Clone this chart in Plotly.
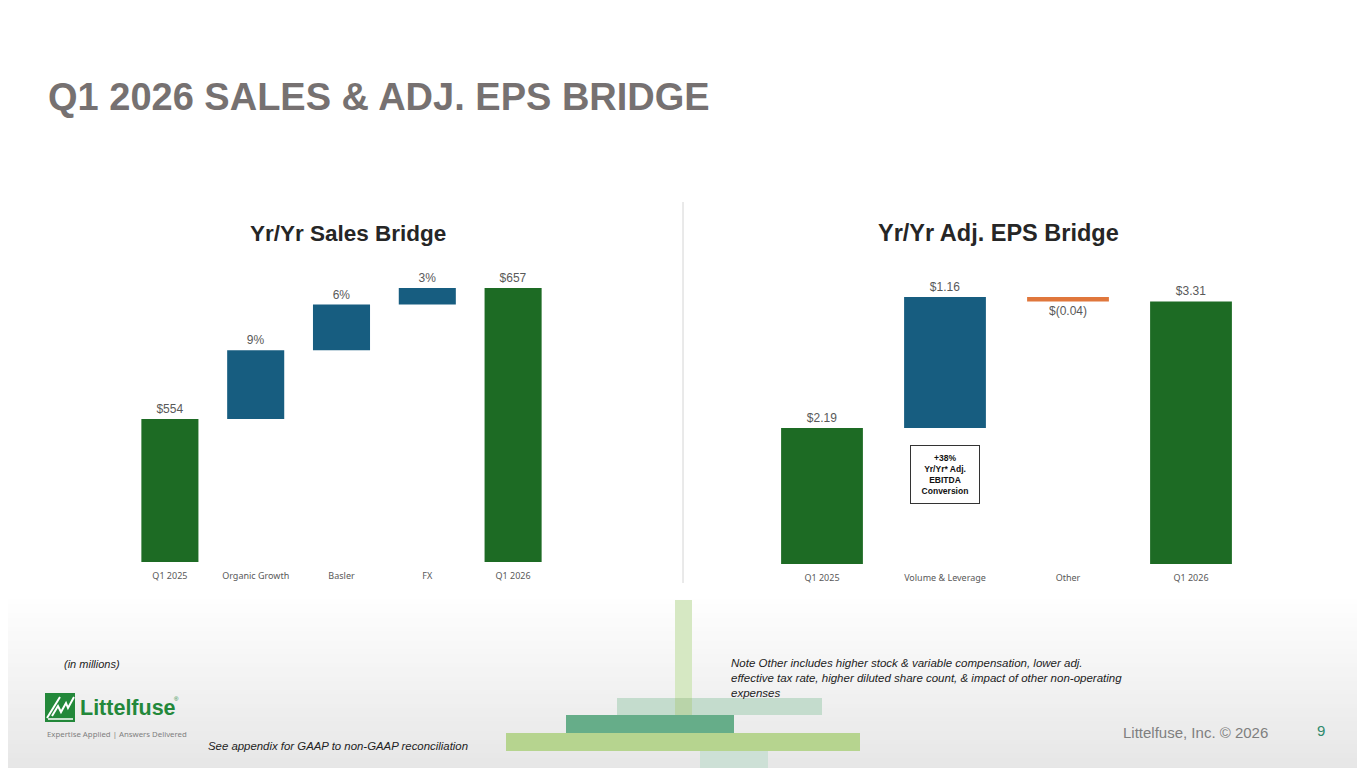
import plotly.graph_objects as go

W, H = 1365, 768
OFF = 8  # page body margin of the html page

# ---------------- data ----------------
sales_categories = ["Q1 2025", "Organic Growth", "Basler", "FX", "Q1 2026"]
sales_values = [554, 54, 36, 13, 657]          # $ millions (start, steps, end)
sales_labels = ["$554", "9%", "6%", "3%", "$657"]
sales_kind = ["total", "step", "step", "step", "total"]

eps_categories = ["Q1 2025", "Volume & Leverage", "Other", "Q1 2026"]
eps_values = [2.19, 1.16, -0.04, 3.31]
eps_labels = ["$2.19", "$1.16", "$(0.04)", "$3.31"]
eps_kind = ["total", "step", "step", "total"]

# ---------------- styles ----------------
GREEN = "#1d6b24"
BLUE = "#175d80"
ORANGE = "#e0773c"
LABEL = "#595959"
FONT = "Liberation Sans, Arial, sans-serif"


def bridge(values, kind):
    bases, heights, colors = [], [], []
    run = 0.0
    for v, k in zip(values, kind):
        if k == "total":
            bases.append(0)
            heights.append(v)
            run = v
            colors.append(GREEN)
        else:
            bases.append(run)
            heights.append(v)
            run += v
            colors.append(BLUE if v >= 0 else ORANGE)
    return bases, heights, colors


sb, sh, sc = bridge(sales_values, sales_kind)
eb, eh, ec = bridge(eps_values, eps_kind)

fig = go.Figure()

fig.add_trace(go.Bar(
    x=sales_categories, y=sh, base=sb, marker=dict(color=sc, line=dict(width=0)),
    text=sales_labels, textposition="outside", cliponaxis=False,
    textfont=dict(family=FONT, size=12, color=LABEL),
    xaxis="x", yaxis="y", showlegend=False, hoverinfo="skip"))

fig.add_trace(go.Bar(
    x=eps_categories, y=eh, base=eb, marker=dict(color=ec, line=dict(width=0)),
    text=eps_labels, textposition="outside", cliponaxis=False,
    textfont=dict(family=FONT, size=12, color=LABEL),
    xaxis="x2", yaxis="y2", showlegend=False, hoverinfo="skip"))


def px(x):
    return (x - OFF) / W


def py(y):
    return 1 - (y - OFF) / H


axis_common = dict(showgrid=False, zeroline=False, showline=False, ticks="",
                   fixedrange=True)

fig.update_layout(
    width=W, height=H, autosize=False,
    margin=dict(l=0, r=0, t=0, b=0),
    paper_bgcolor="white", plot_bgcolor="rgba(0,0,0,0)",
    bargap=0.335,
    font=dict(family=FONT),
    xaxis=dict(domain=[px(127), px(556)], anchor="y", **axis_common,
               tickfont=dict(family="Noto Sans, sans-serif", size=9, color=LABEL),
               ticklabelstandoff=7),
    yaxis=dict(domain=[py(562), py(250)], anchor="x", range=[441.6, 686.9],
               showticklabels=False, **axis_common),
    xaxis2=dict(domain=[px(760.5), px(1252.5)], anchor="y2", **axis_common,
                tickfont=dict(family="Noto Sans, sans-serif", size=9, color=LABEL),
                ticklabelstandoff=7),
    yaxis2=dict(domain=[py(564), py(250)], anchor="x2", range=[0.985, 3.766],
                showticklabels=False, **axis_common),
)

shapes = []
# footer gradient background
n = 40
y0, y1 = 595, 776
for i in range(n):
    t = (i + 0.5) / n
    g = int(round(255 - t * 26))
    shapes.append(dict(type="rect", xref="paper", yref="paper", layer="below",
                       x0=-0.01, x1=1, y0=py(y0 + (y1 - y0) * (i + 1) / n) - 0.001,
                       y1=py(y0 + (y1 - y0) * i / n),
                       line=dict(width=0), fillcolor=f"rgb({g},{g},{g})"))

# divider line
shapes.append(dict(type="line", xref="paper", yref="paper",
                   x0=px(683), x1=px(683), y0=py(202), y1=py(583),
                   line=dict(color="#d4d4d4", width=1)))


# decorative blocks
def block(x0, x1, ya, yb, color):
    shapes.append(dict(type="rect", xref="paper", yref="paper", layer="above",
                       x0=px(x0), x1=px(x1), y0=py(yb), y1=py(ya),
                       line=dict(width=0), fillcolor=color))


block(675, 692, 600, 715, "#d6e8c3")
block(617, 822, 698, 715, "#c4dccd")
block(675, 692, 698, 715, "#b9d4a9")
block(566, 734, 715, 733, "#66ad89")
block(506, 860, 733, 751, "#b6d48f")
block(700, 768, 751, 776, "#cde0d6")

# logo icon
shapes.append(dict(type="rect", xref="paper", yref="paper",
                   x0=px(45), x1=px(75), y0=py(722), y1=py(693),
                   line=dict(width=0), fillcolor="#23883a"))
shapes.append(dict(type="path", xref="paper", yref="paper",
                   path=f"M {px(47)} {py(718)} L {px(60)} {py(697)} "
                        f"M {px(52)} {py(716)} L {px(58)} {py(706)} L {px(61)} {py(712)} "
                        f"L {px(66)} {py(703)} L {px(68)} {py(708)} L {px(74)} {py(697)}",
                   line=dict(color="white", width=2)))
shapes.append(dict(type="line", xref="paper", yref="paper",
                   x0=px(48), x1=px(73), y0=py(719), y1=py(719),
                   line=dict(color="white", width=1.5)))

fig.update_layout(shapes=shapes)

ann = []


def text(x, y, s, size, color, xanchor="left", yanchor="middle", bold=False,
         italic=False, family=FONT, align="left"):
    if bold:
        s = f"<b>{s}</b>"
    if italic:
        s = f"<i>{s}</i>"
    ann.append(dict(x=px(x), y=py(y), xref="paper", yref="paper", text=s,
                    showarrow=False, xanchor=xanchor, yanchor=yanchor, align=align,
                    font=dict(family=family, size=size, color=color)))


text(46, 97, "Q1 2026 SALES &amp; ADJ. EPS BRIDGE", 38, "#767171", bold=True)
text(348, 233, "Yr/Yr Sales Bridge", 22.5, "#262626", xanchor="center", bold=True)
text(998, 233, "Yr/Yr Adj. EPS Bridge", 23.5, "#262626", xanchor="center", bold=True)

# EBITDA box
ann.append(dict(x=px(945), y=py(474.5), xref="paper", yref="paper",
                text="<b>+38%<br>Yr/Yr* Adj.<br>EBITDA<br>Conversion</b>",
                showarrow=False, xanchor="center", yanchor="middle", align="center",
                width=66, height=55, borderpad=1, bordercolor="#333333",
                borderwidth=1, bgcolor="white",
                font=dict(family=FONT, size=8.5, color="#111111")))

text(62, 664, "(in millions)", 11, "#222222", italic=True)
text(206, 746, "See appendix for GAAP to non-GAAP reconciliation", 11.4, "#222222",
     italic=True)
text(729, 678, "Note Other includes higher stock &amp; variable compensation, lower adj.<br>"
               "effective tax rate, higher diluted share count, &amp; impact of other non-operating<br>"
               "expenses", 11.5, "#222222", italic=True)
text(1121, 732, "Littelfuse, Inc. © 2026", 15, "#7f7f7f")
text(1321, 730, "9", 15, "#2f8a6d", xanchor="center")

# logo wordmark
text(78, 708, "Littelfuse", 21.5, "#23883a", bold=True,
     family="Liberation Sans Narrow, Arial Narrow, Liberation Sans, sans-serif")
text(172, 699, "®", 6, "#23883a")
text(45, 734, "Expertise Applied | Answers Delivered", 7.8, "#7f7f7f",
     family="Noto Sans, sans-serif")

fig.update_layout(annotations=ann)

fig.write_html("out.html")
